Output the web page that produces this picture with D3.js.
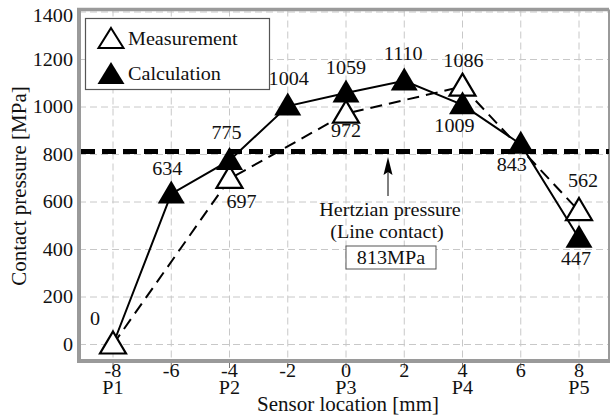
<!DOCTYPE html>
<html>
<head>
<meta charset="utf-8">
<script src="https://cdn.jsdelivr.net/npm/d3@7"></script>
<style>
  body { margin: 0; background: #fff; }
</style>
</head>
<body>
<div id="chart"></div>
<script>
// sensor positions [mm] and sensor names
const xTicks = [-8, -6, -4, -2, 0, 2, 4, 6, 8];
const sensorNames = ["P1", "P2", "P3", "P4", "P5"];
const sensorPos = [-8, -4, 0, 4, 8];
const yTicks = [0, 200, 400, 600, 800, 1000, 1200, 1400];

// measurement (open triangles, dashed)
const measX = [-8, -4, 0, 4, 8];
const measY = [0, 697, 972, 1086, 562];

// calculation (filled triangles, solid) - line starts at P1 = 0
const calcLineX = [-8, -6, -4, -2, 0, 2, 4, 6, 8];
const calcLineY = [0, 634, 775, 1004, 1059, 1110, 1009, 843, 447];
const calcX = calcLineX.slice(1);
const calcY = calcLineY.slice(1);

const hertzValue = 813;

const width = 611, height = 416;
const plot = { left: 79, right: 609, top: 9.5, bottom: 361 };
const sx = 1.12; // glyphs in the reference are a bit wide
const serif = "'Liberation Serif', 'Times New Roman', 'DejaVu Serif', serif";

const x = d3.scaleLinear().domain([-8, 8]).range([113, 579]);
const y = d3.scaleLinear().domain([0, 1400]).range([344.5, 12]);

const svg = d3.select("#chart").append("svg")
    .attr("width", width)
    .attr("height", height)
    .attr("font-family", serif);

function addText(g, px, py, str, size, anchor, stretch) {
    return g.append("text")
        .attr("transform", `translate(${px},${py}) scale(${stretch || sx},1)`)
        .attr("text-anchor", anchor || "middle")
        .attr("font-family", serif)
        .attr("font-size", size)
        .attr("fill", "#111")
        .text(str);
}

function triPath(s, h) {
    return `M0,${-h / 2}L${s / 2},${h / 2}L${-s / 2},${h / 2}Z`;
}

// grid
const grid = svg.append("g").attr("class", "grid");
grid.selectAll("line.v").data(xTicks).enter().append("line")
    .attr("x1", d => x(d)).attr("x2", d => x(d))
    .attr("y1", plot.top).attr("y2", plot.bottom)
    .attr("stroke", "#c8c8c8").attr("stroke-width", 1)
    .attr("stroke-dasharray", "7,4");
grid.selectAll("line.h").data(yTicks).enter().append("line")
    .attr("x1", plot.left).attr("x2", plot.right)
    .attr("y1", d => y(d)).attr("y2", d => y(d))
    .attr("stroke", "#c8c8c8").attr("stroke-width", 1)
    .attr("stroke-dasharray", "7,4");

// frame
const frame = svg.append("g").attr("stroke", "#9a9a9a");
frame.append("line").attr("x1", plot.left - 2).attr("x2", plot.right).attr("y1", plot.top).attr("y2", plot.top).attr("stroke-width", 3.5);
frame.append("line").attr("x1", plot.right).attr("x2", plot.right).attr("y1", plot.top).attr("y2", plot.bottom).attr("stroke-width", 2);
frame.append("line").attr("x1", plot.left).attr("x2", plot.left).attr("y1", plot.top - 1.5).attr("y2", plot.bottom + 2).attr("stroke-width", 4);
frame.append("line").attr("x1", plot.left - 2).attr("x2", plot.right + 1).attr("y1", plot.bottom).attr("y2", plot.bottom).attr("stroke-width", 4);
frame.selectAll("line.tick").data(xTicks).enter().append("line")
    .attr("x1", d => x(d)).attr("x2", d => x(d))
    .attr("y1", plot.bottom + 2).attr("y2", plot.bottom + 7)
    .attr("stroke", "#777").attr("stroke-width", 1);

// tick labels
const labels = svg.append("g");
yTicks.forEach(d => addText(labels, 73, Math.max(y(d), 16) + 6, d, 18, "end"));
xTicks.forEach(d => addText(labels, x(d), 377, d, 18, "middle"));
sensorNames.forEach((n, i) => addText(labels, x(sensorPos[i]), 394, n, 18, "middle"));

// axis titles
addText(svg, 348, 411, "Sensor location [mm]", 20, "middle", 1.05);
svg.append("text")
    .attr("transform", "translate(26,186) rotate(-90)")
    .attr("text-anchor", "middle")
    .attr("font-family", serif)
    .attr("font-size", 21)
    .attr("fill", "#111")
    .text("Contact pressure [MPa]");

// Hertzian pressure line
svg.append("line")
    .attr("x1", plot.left + 2).attr("x2", plot.right)
    .attr("y1", y(hertzValue)).attr("y2", y(hertzValue))
    .attr("stroke", "#000").attr("stroke-width", 5)
    .attr("stroke-dasharray", "14,7");

// lines
const line = d3.line().x(d => x(d[0])).y(d => y(d[1]));
svg.append("path")
    .datum(calcLineX.map((v, i) => [v, calcLineY[i]]))
    .attr("d", line)
    .attr("fill", "none").attr("stroke", "#000").attr("stroke-width", 2);
svg.append("path")
    .datum(measX.map((v, i) => [v, measY[i]]))
    .attr("d", line)
    .attr("fill", "none").attr("stroke", "#000").attr("stroke-width", 2)
    .attr("stroke-dasharray", "12,7");

// markers: open first, filled on top
svg.selectAll("path.meas").data(measX).enter().append("path")
    .attr("transform", (d, i) => `translate(${x(d)},${y(measY[i]) - 2})`)
    .attr("d", triPath(26, 22))
    .attr("fill", "#fff").attr("stroke", "#000").attr("stroke-width", 2.2);
svg.selectAll("path.calc").data(calcX).enter().append("path")
    .attr("transform", (d, i) => `translate(${x(d)},${y(calcY[i]) - 2})`)
    .attr("d", triPath(27, 23))
    .attr("fill", "#000");

// value labels (offsets from the marker)
const measOff = [[-18, -20], [12, 29], [0, 23], [1, -20], [4, -24]];
const calcOff = [[-4, -19], [-3, -21], [1, -21], [0, -19], [-1, -21], [-8, 27], [-9, 27], [-3, 27]];
measX.forEach((d, i) => addText(svg, x(d) + measOff[i][0], y(measY[i]) + measOff[i][1], measY[i], 18, "middle"));
calcX.forEach((d, i) => addText(svg, x(d) + calcOff[i][0], y(calcY[i]) + calcOff[i][1], calcY[i], 18, "middle"));

// annotation
const ax = 388;
svg.append("line")
    .attr("x1", ax).attr("x2", ax)
    .attr("y1", 196).attr("y2", 170)
    .attr("stroke", "#000").attr("stroke-width", 1);
svg.append("path")
    .attr("d", `M${ax},157L${ax + 4.5},175L${ax},172L${ax - 4.5},175Z`)
    .attr("fill", "#000");
addText(svg, 390, 216, "Hertzian pressure", 18, "middle");
addText(svg, 387, 238, "(Line contact)", 18, "middle");
svg.append("rect")
    .attr("x", 346).attr("y", 246).attr("width", 90).attr("height", 23)
    .attr("fill", "#fff").attr("stroke", "#555").attr("stroke-width", 1);
addText(svg, 391, 264, hertzValue + "MPa", 18, "middle");

// legend
const legend = svg.append("g");
legend.append("rect")
    .attr("x", 85.5).attr("y", 18.5).attr("width", 184).attr("height", 71)
    .attr("fill", "#fff").attr("stroke", "#555").attr("stroke-width", 1.2);
legend.append("path")
    .attr("transform", "translate(111,38)")
    .attr("d", triPath(25, 20))
    .attr("fill", "#fff").attr("stroke", "#000").attr("stroke-width", 2);
legend.append("path")
    .attr("transform", "translate(111,73)")
    .attr("d", triPath(27, 22))
    .attr("fill", "#000");
addText(legend, 128, 45, "Measurement", 18, "start");
addText(legend, 128, 80, "Calculation", 18, "start");
</script>
</body>
</html>
